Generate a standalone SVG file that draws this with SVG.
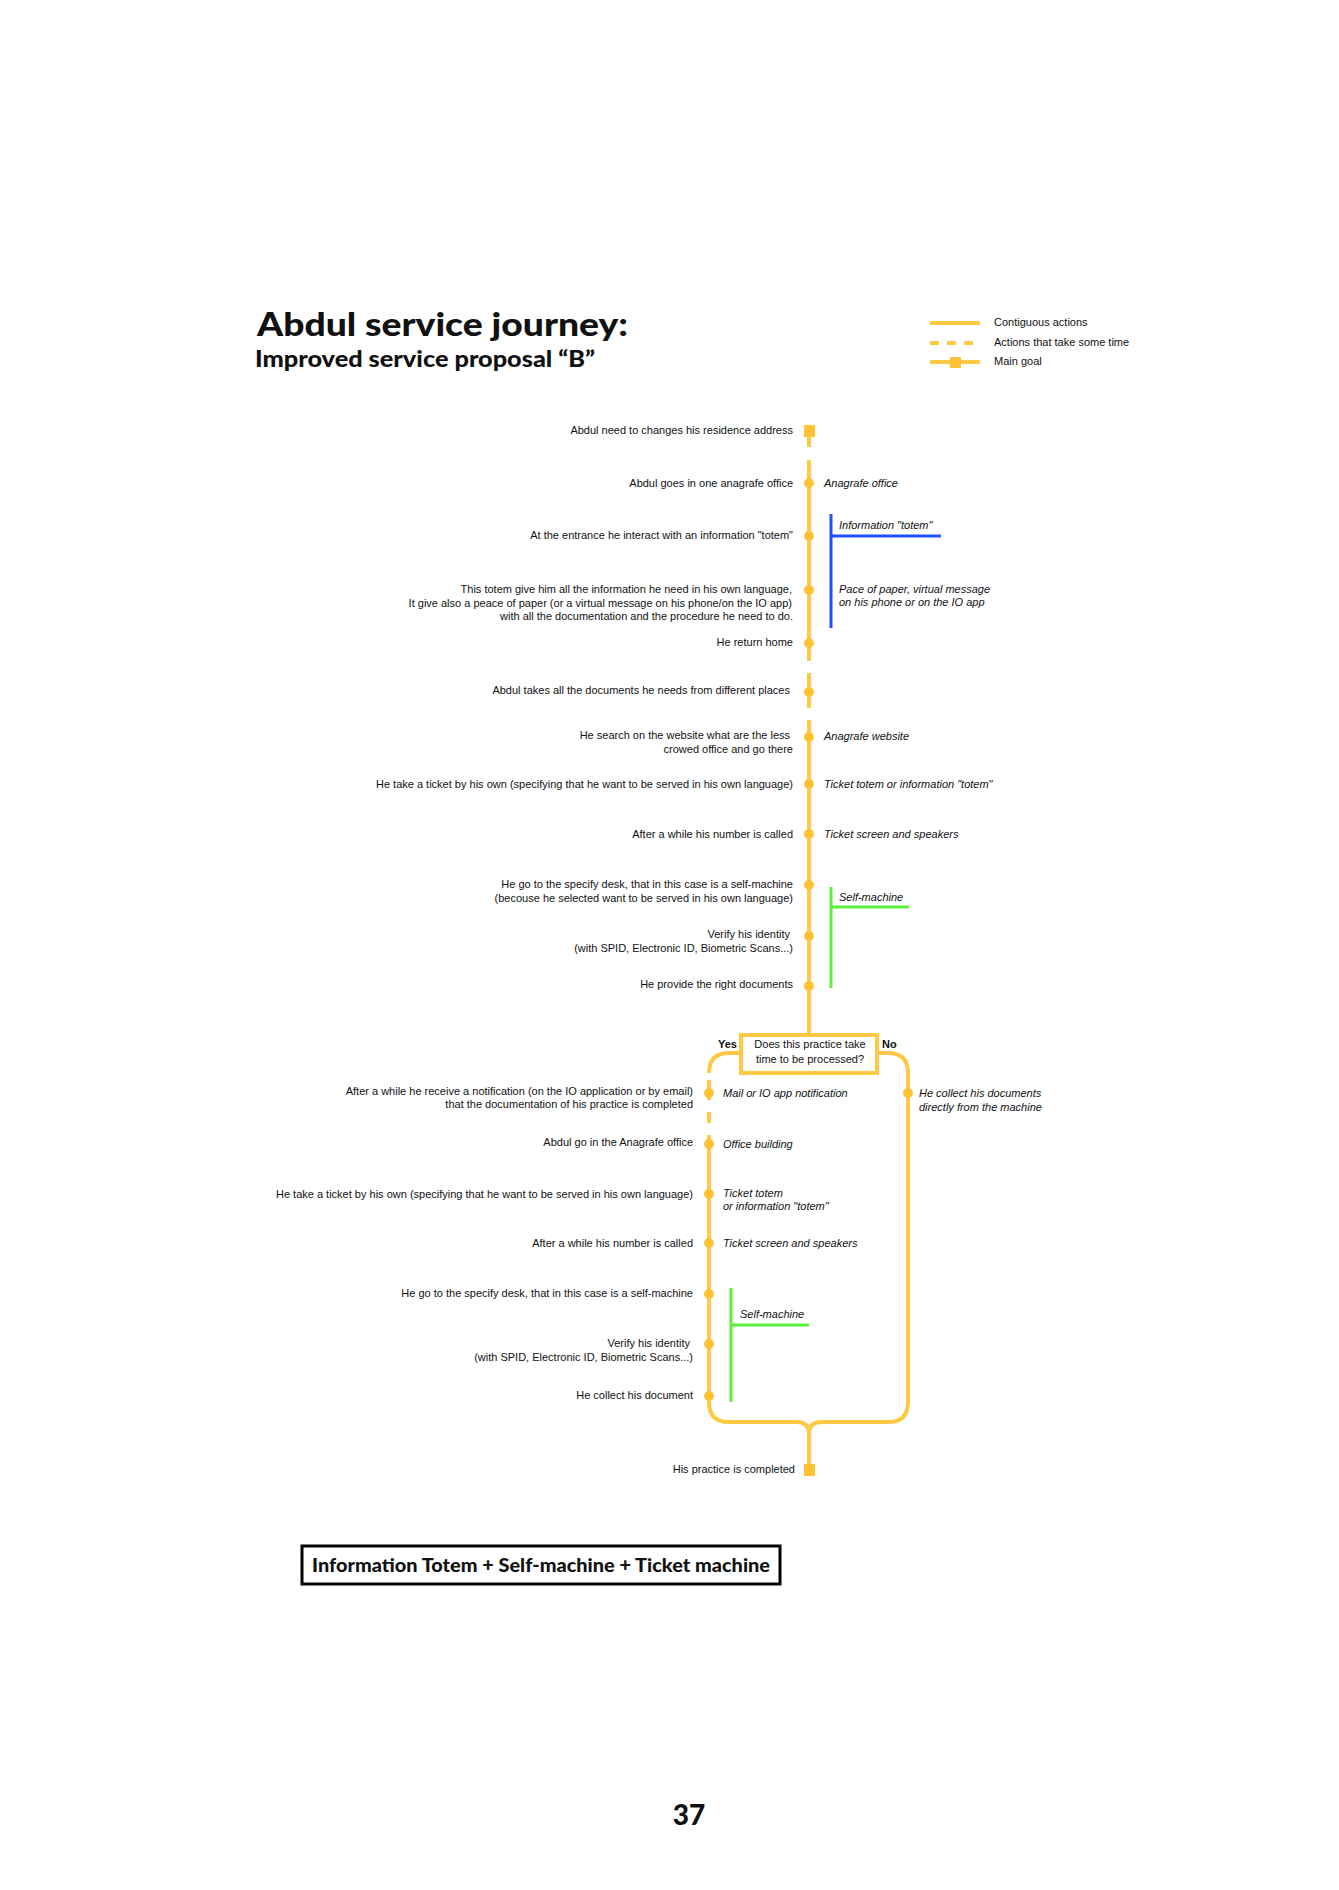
<svg xmlns="http://www.w3.org/2000/svg" width="1339" height="1890" viewBox="0 0 1339 1890">
<style>
.t{font-family:"Liberation Sans",Arial,sans-serif;font-size:11px;fill:#111}
.e{text-anchor:end}
.i{font-family:"Liberation Sans",Arial,sans-serif;font-size:11px;font-style:italic;fill:#111}
.ln{fill:none;stroke:#FFC845;stroke-width:4;stroke-linecap:butt}
.dot{fill:#FFC233}
.sq{fill:#FFC233}
.blue{stroke:#1E50FF;stroke-width:3;fill:none}
.green{stroke:#5BF03A;stroke-width:3;fill:none}
.h{font-family:Lato,"Open Sans",sans-serif;font-weight:900;fill:#111}
</style>
<rect width="1339" height="1890" fill="#fff"/>
<g id="title">
<text class="h" x="257" y="336" font-size="32" textLength="371" lengthAdjust="spacingAndGlyphs">Abdul service journey:</text>
<text class="h" x="255" y="367" font-size="22" textLength="340" lengthAdjust="spacingAndGlyphs">Improved service proposal “B”</text>
</g>
<g id="legend">
<line class="ln" x1="930" y1="323" x2="980" y2="323"/>
<line class="ln" x1="930" y1="343" x2="980" y2="343" stroke-dasharray="9 8"/>
<line class="ln" x1="930" y1="362" x2="980" y2="362"/>
<rect class="sq" x="950" y="357" width="11" height="11"/>
<text class="t" x="994" y="326">Contiguous actions</text>
<text class="t" x="994" y="346">Actions that take some time</text>
<text class="t" x="994" y="365">Main goal</text>
</g>
<g id="connectors">
<line class="ln" x1="809" y1="431" x2="809" y2="447"/>
<line class="ln" x1="809" y1="460" x2="809" y2="661"/>
<line class="ln" x1="809" y1="673" x2="809" y2="708"/>
<line class="ln" x1="809" y1="720" x2="809" y2="1035"/>
<path class="ln" d="M741,1053 L729,1053 Q709,1053 709,1073"/>
<line class="ln" x1="709" y1="1080" x2="709" y2="1100"/>
<line class="ln" x1="709" y1="1112" x2="709" y2="1123"/>
<path class="ln" d="M709,1135 L709,1402 Q709,1422 729,1422 L797,1422 Q809,1422 809,1434"/>
<path class="ln" d="M877,1053 L888,1053 Q908,1053 908,1073 L908,1402 Q908,1422 888,1422 L821,1422 Q809,1422 809,1434"/>
<line class="ln" x1="809" y1="1434" x2="809" y2="1470"/>
</g>
<g id="decision">
<rect x="741" y="1035" width="136" height="38" fill="#fff" stroke="#FFC845" stroke-width="4"/>
<text class="t" x="810" y="1048" text-anchor="middle">Does this practice take</text>
<text class="t" x="810" y="1063" text-anchor="middle">time to be processed?</text>
<text class="t" x="718" y="1048" font-weight="bold">Yes</text>
<text class="t" x="882" y="1048" font-weight="bold">No</text>
</g>
<g id="touchpoints">
<path class="blue" d="M831,514 V628 M831,536 H941"/>
<path class="green" d="M831,887 V988 M831,907 H909"/>
<path class="green" d="M731,1288 V1402 M731,1325 H809"/>
</g>
<g id="n-start"><rect class="sq" x="804" y="425" width="11" height="12"/><text class="t e" x="793" y="434">Abdul need to changes his residence address</text></g>
<g id="n1"><circle class="dot" cx="809" cy="483" r="5"/><text class="t e" x="793" y="487">Abdul goes in one anagrafe office</text><text class="i" x="824" y="487">Anagrafe office</text></g>
<g id="n2"><circle class="dot" cx="809" cy="536" r="5"/><text class="t e" x="793" y="539">At the entrance he interact with an information "totem"</text><text class="i" x="839" y="529">Information "totem"</text></g>
<g id="n3"><circle class="dot" cx="809" cy="590" r="5"/><text class="t e" x="792" y="593">This totem give him all the information he need in his own language,</text><text class="t e" x="792" y="607">It give also a peace of paper (or a virtual message on his phone/on the IO app)</text><text class="t e" x="793" y="620">with all the documentation and the procedure he need to do.</text><text class="i" x="839" y="593">Pace of paper, virtual message</text><text class="i" x="839" y="606">on his phone or on the IO app</text></g>
<g id="n4"><circle class="dot" cx="809" cy="643" r="5"/><text class="t e" x="793" y="646">He return home</text></g>
<g id="n5"><circle class="dot" cx="809" cy="692" r="5"/><text class="t e" x="790" y="694">Abdul takes all the documents he needs from different places</text></g>
<g id="n6"><circle class="dot" cx="809" cy="737" r="5"/><text class="t e" x="790" y="739">He search on the website what are the less</text><text class="t e" x="793" y="753">crowed office and go there</text><text class="i" x="824" y="740">Anagrafe website</text></g>
<g id="n7"><circle class="dot" cx="809" cy="784" r="5"/><text class="t e" x="793" y="788">He take a ticket by his own (specifying that he want to be served in his own language)</text><text class="i" x="824" y="788">Ticket totem or information "totem"</text></g>
<g id="n8"><circle class="dot" cx="809" cy="834" r="5"/><text class="t e" x="793" y="838">After a while his number is called</text><text class="i" x="824" y="838">Ticket screen and speakers</text></g>
<g id="n9"><circle class="dot" cx="809" cy="885" r="5"/><text class="t e" x="793" y="888">He go to the specify desk, that in this case is a self-machine</text><text class="t e" x="793" y="902">(becouse he selected want to be served in his own language)</text><text class="i" x="839" y="901">Self-machine</text></g>
<g id="n10"><circle class="dot" cx="809" cy="936" r="5"/><text class="t e" x="790" y="938">Verify his identity</text><text class="t e" x="793" y="952">(with SPID, Electronic ID, Biometric Scans...)</text></g>
<g id="n11"><circle class="dot" cx="809" cy="986" r="5"/><text class="t e" x="793" y="988">He provide the right documents</text></g>
<g id="y1"><circle class="dot" cx="709" cy="1093" r="5"/><text class="t e" x="693" y="1095">After a while he receive a notification (on the IO application or by email)</text><text class="t e" x="693" y="1108">that the documentation of his practice is completed</text><text class="i" x="723" y="1097">Mail or IO app notification</text></g>
<g id="no1"><circle class="dot" cx="908" cy="1093" r="5"/><text class="i" x="919" y="1097">He collect his documents</text><text class="i" x="919" y="1111">directly from the machine</text></g>
<g id="y2"><circle class="dot" cx="709" cy="1144" r="5"/><text class="t e" x="693" y="1146">Abdul go in the Anagrafe office</text><text class="i" x="723" y="1148">Office building</text></g>
<g id="y3"><circle class="dot" cx="709" cy="1194" r="5"/><text class="t e" x="693" y="1198">He take a ticket by his own (specifying that he want to be served in his own language)</text><text class="i" x="723" y="1197">Ticket totem</text><text class="i" x="723" y="1210">or information "totem"</text></g>
<g id="y4"><circle class="dot" cx="709" cy="1243" r="5"/><text class="t e" x="693" y="1247">After a while his number is called</text><text class="i" x="723" y="1247">Ticket screen and speakers</text></g>
<g id="y5"><circle class="dot" cx="709" cy="1294" r="5"/><text class="t e" x="693" y="1297">He go to the specify desk, that in this case is a self-machine</text><text class="i" x="740" y="1318">Self-machine</text></g>
<g id="y6"><circle class="dot" cx="709" cy="1344" r="5"/><text class="t e" x="690" y="1347">Verify his identity</text><text class="t e" x="693" y="1361">(with SPID, Electronic ID, Biometric Scans...)</text></g>
<g id="y7"><circle class="dot" cx="709" cy="1396" r="5"/><text class="t e" x="693" y="1399">He collect his document</text></g>
<g id="n-end"><rect class="sq" x="804" y="1464" width="11" height="12"/><text class="t e" x="795" y="1473">His practice is completed</text></g>
<g id="summary">
<rect x="302" y="1546" width="478" height="38" fill="#fff" stroke="#000" stroke-width="3"/>
<text class="h" x="312" y="1572" font-size="19" textLength="458" lengthAdjust="spacingAndGlyphs">Information Totem + Self-machine + Ticket machine</text>
</g>
<text class="h" x="689" y="1825" font-size="28" text-anchor="middle">37</text>
</svg>
